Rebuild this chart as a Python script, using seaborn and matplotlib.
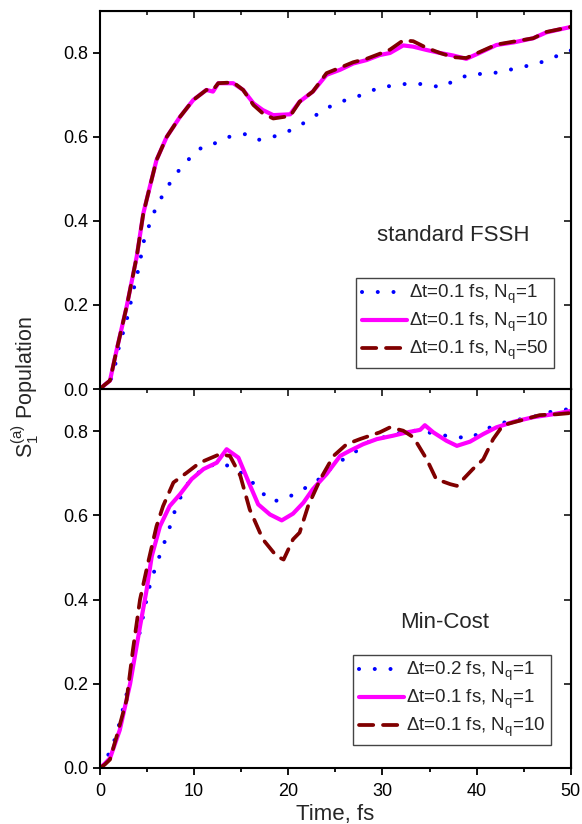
import matplotlib
matplotlib.use("Agg")
import matplotlib.pyplot as plt
from matplotlib.ticker import MultipleLocator
import seaborn as sns

sns.set_style("ticks")
plt.rcParams["font.family"] = ["Liberation Sans", "DejaVu Sans"]
plt.rcParams["mathtext.fontset"] = "custom"
plt.rcParams["mathtext.rm"] = "Liberation Sans"
plt.rcParams["mathtext.it"] = "Liberation Sans"

# ---- top panel: standard FSSH ----
t_fssh_nq1 = [0, 0.6, 1.2, 1.7, 2.1, 2.65, 3.1, 3.47, 3.9, 4.3, 4.6, 5.2, 5.84, 6.76, 7.7, 8.67,
              9.73, 11.0, 12.2, 13.8, 15.5, 16.8, 18.3, 19.6, 21.2, 22.6, 23.9, 25.3, 26.75, 28.2,
              29.7, 31.4, 33.0, 34.6, 36.3, 37.9, 39.5, 41.2, 42.8, 44.6, 46.3, 48.1, 50]
p_fssh_nq1 = [0, 0.005, 0.025, 0.065, 0.11, 0.148, 0.188, 0.228, 0.267, 0.309, 0.348, 0.388, 0.426,
              0.466, 0.5, 0.529, 0.554, 0.579, 0.585, 0.601, 0.607, 0.593, 0.6, 0.609, 0.627, 0.647,
              0.666, 0.683, 0.691, 0.704, 0.718, 0.723, 0.728, 0.725, 0.718, 0.738, 0.75, 0.75,
              0.756, 0.766, 0.773, 0.789, 0.806]

t_fssh = [0, 0.5, 1.06, 1.77, 2.83, 3.9, 4.6, 5.3, 6.0, 7.08, 8.5, 9.9, 11.3, 12.0, 12.56, 14.15,
          15.2, 16.3, 17.3, 18.4, 20.2, 21.2, 22.6, 24.06, 25.5, 26.9, 28.3, 29.7, 30.8, 32.2,
          33.26, 34.7, 36.1, 37.5, 38.9, 40.3, 42.1, 43.9, 46.0, 47.4, 50]
p_fssh_nq10 = [0, 0.01, 0.02, 0.093, 0.196, 0.315, 0.418, 0.482, 0.545, 0.6, 0.648, 0.688, 0.712,
               0.708, 0.728, 0.728, 0.712, 0.68, 0.664, 0.652, 0.654, 0.684, 0.708, 0.748, 0.76,
               0.775, 0.783, 0.795, 0.8, 0.818, 0.815, 0.807, 0.8, 0.794, 0.786, 0.8, 0.819, 0.825,
               0.835, 0.849, 0.862]
p_fssh_nq50 = [0, 0.01, 0.02, 0.093, 0.196, 0.315, 0.418, 0.482, 0.545, 0.6, 0.648, 0.688, 0.712,
               0.712, 0.728, 0.73, 0.712, 0.676, 0.656, 0.644, 0.65, 0.684, 0.708, 0.752, 0.765,
               0.778, 0.786, 0.798, 0.808, 0.83, 0.828, 0.812, 0.8, 0.79, 0.788, 0.802, 0.82, 0.827,
               0.835, 0.85, 0.862]

# ---- bottom panel: Min-Cost ----
t_mc_dt02 = [0, 0.5, 1.06, 1.77, 2.2, 2.65, 3.08, 3.47, 3.75, 4.2, 4.6, 4.96, 5.4, 6.0, 6.65, 7.3,
             7.86, 8.6, 9.55, 11.07, 12.8, 14.4, 15.85, 16.9, 18.3, 20.0, 21.65, 23.0, 24.5, 25.9,
             27.4, 28.7, 30.4, 32.4, 34.1, 35.7, 37.5, 39.3, 41.0, 42.6, 44.4, 46.2, 47.9, 50]
p_mc_dt02 = [0, 0.015, 0.039, 0.079, 0.119, 0.158, 0.2, 0.241, 0.281, 0.32, 0.362, 0.402, 0.443,
             0.483, 0.524, 0.564, 0.605, 0.645, 0.684, 0.713, 0.725, 0.71, 0.687, 0.66, 0.632,
             0.643, 0.663, 0.681, 0.711, 0.734, 0.755, 0.777, 0.787, 0.799, 0.802, 0.792, 0.787,
             0.783, 0.805, 0.819, 0.827, 0.835, 0.846, 0.853]

t_mc_nq1 = [0, 0.5, 1.06, 2.1, 3.2, 4.25, 4.96, 5.5, 6.37, 7.4, 8.5, 9.73, 11.0, 12.4, 13.45, 14.7,
            15.8, 16.8, 18.05, 19.3, 20.5, 21.6, 22.6, 24.06, 25.5, 26.5, 27.95, 29.4, 31.1, 32.6,
            34.0, 34.5, 35.4, 36.8, 37.9, 39.3, 40.7, 42.1, 43.9, 46.0, 48.1, 50]
p_mc_nq1 = [0, 0.01, 0.023, 0.09, 0.2, 0.336, 0.424, 0.503, 0.574, 0.622, 0.65, 0.686, 0.71, 0.725,
            0.757, 0.737, 0.678, 0.626, 0.602, 0.588, 0.604, 0.63, 0.662, 0.698, 0.741, 0.753,
            0.769, 0.781, 0.789, 0.797, 0.803, 0.814, 0.797, 0.777, 0.765, 0.775, 0.793, 0.809,
            0.822, 0.833, 0.84, 0.848]

t_mc_nq10 = [0, 0.5, 1.06, 1.77, 2.83, 3.5, 4.25, 5.1, 6.0, 6.7, 7.8, 9.2, 10.6, 12.7, 13.8, 14.9,
             15.9, 17.3, 18.75, 19.5, 20.5, 21.2, 22.1, 23.4, 24.8, 26.2, 27.6, 29.7, 30.8, 32.2,
             33.3, 34.7, 35.7, 37.2, 37.9, 39.6, 40.7, 41.75, 42.8, 44.6, 46.7, 48.5, 50]
p_mc_nq10 = [0, 0.008, 0.02, 0.075, 0.162, 0.281, 0.4, 0.487, 0.574, 0.622, 0.678, 0.701, 0.725,
             0.745, 0.741, 0.694, 0.614, 0.543, 0.503, 0.495, 0.543, 0.559, 0.622, 0.686, 0.741,
             0.769, 0.781, 0.797, 0.809, 0.801, 0.785, 0.733, 0.686, 0.674, 0.67, 0.71, 0.733,
             0.781, 0.814, 0.825, 0.838, 0.84, 0.843]

blue, magenta, brown = "#0000ff", "#ff00ff", "#800000"
dot_style = dict(color=blue, lw=2.9, linestyle=(0, (0.01, 3.9)), dash_capstyle="round")
solid_style = dict(color=magenta, lw=3.0, linestyle="-")
dash_style = dict(color=brown, lw=2.7, linestyle=(0, (3.8, 2.6)), dash_capstyle="round")

fig = plt.figure(figsize=(5.82, 8.24), dpi=100)
ax1 = fig.add_axes([0.1718, 0.5279, 0.809, 0.4588])
ax2 = fig.add_axes([0.1718, 0.0680, 0.809, 0.4599], sharex=ax1)

sns.lineplot(x=t_fssh_nq1, y=p_fssh_nq1, ax=ax1, label=r"$\Delta$t=0.1 fs, N$_q$=1", **dot_style)
sns.lineplot(x=t_fssh, y=p_fssh_nq10, ax=ax1, label=r"$\Delta$t=0.1 fs, N$_q$=10", **solid_style)
sns.lineplot(x=t_fssh, y=p_fssh_nq50, ax=ax1, label=r"$\Delta$t=0.1 fs, N$_q$=50", **dash_style)

sns.lineplot(x=t_mc_dt02, y=p_mc_dt02, ax=ax2, label=r"$\Delta$t=0.2 fs, N$_q$=1", **dot_style)
sns.lineplot(x=t_mc_nq1, y=p_mc_nq1, ax=ax2, label=r"$\Delta$t=0.1 fs, N$_q$=1", **solid_style)
sns.lineplot(x=t_mc_nq10, y=p_mc_nq10, ax=ax2, label=r"$\Delta$t=0.1 fs, N$_q$=10", **dash_style)

legend_anchor = {ax1: (0.964, 0.056), ax2: (0.958, 0.061)}
for ax in (ax1, ax2):
    ax.set_xlim(0, 50)
    ax.set_ylim(0, 0.9)
    ax.xaxis.set_major_locator(MultipleLocator(10))
    ax.xaxis.set_minor_locator(MultipleLocator(5))
    ax.yaxis.set_major_locator(MultipleLocator(0.2))
    ax.yaxis.set_major_formatter(plt.FuncFormatter(lambda v, p: f"{v:.1f}"))
    for s in ax.spines.values():
        s.set_visible(True)
        s.set_linewidth(1.5)
        s.set_color("black")
    ax.tick_params(which="both", direction="out", width=1.3, labelsize=13, colors="black")
    ax.tick_params(which="major", length=5)
    ax.tick_params(which="minor", length=3)
    ax.tick_params(axis="x", pad=6)
    # mirrored ticks pointing inward on top and right
    top = ax.secondary_xaxis("top")
    top.xaxis.set_major_locator(MultipleLocator(10))
    top.xaxis.set_minor_locator(MultipleLocator(5))
    top.tick_params(which="both", direction="in", labeltop=False, width=1.3)
    top.tick_params(which="major", length=5)
    top.tick_params(which="minor", length=3)
    right = ax.secondary_yaxis("right")
    right.yaxis.set_major_locator(MultipleLocator(0.2))
    right.tick_params(direction="in", labelright=False, width=1.3, length=5)
    ax.set_xlabel("")
    ax.set_ylabel("")
    leg = ax.legend(loc="lower right", bbox_to_anchor=legend_anchor[ax], fontsize=13.5,
                    frameon=True, fancybox=False, edgecolor="#444444", framealpha=1,
                    handlelength=2.4, handletextpad=0.1, labelspacing=0.25, borderpad=0.3,
                    borderaxespad=0.0)
    leg.get_frame().set_linewidth(1.0)

ax1.text(0.75, 0.405, "standard FSSH", transform=ax1.transAxes, ha="center",
         va="center", fontsize=16)
ax2.text(0.733, 0.385, "Min-Cost", transform=ax2.transAxes, ha="center",
         va="center", fontsize=16)

plt.setp(ax1.get_xticklabels(), visible=False)
ax2.set_xlabel("Time, fs", fontsize=16, labelpad=3)
fig.text(0.043, 0.530, r"S$_1^{(a)}$ Population", rotation=90, ha="center", va="center",
         fontsize=15.5)

fig.savefig("out.png", dpi=100)
